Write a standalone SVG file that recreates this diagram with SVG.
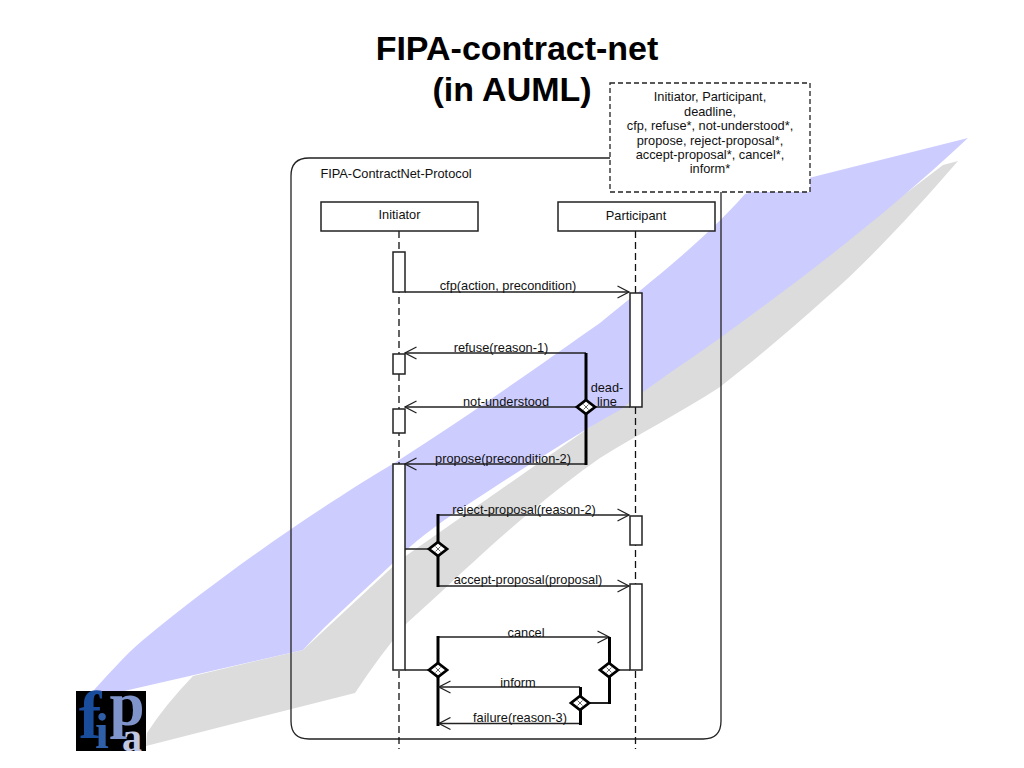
<svg xmlns="http://www.w3.org/2000/svg" width="1024" height="768" viewBox="0 0 1024 768">
<style>
text{font-family:"Liberation Sans",Arial,sans-serif;fill:#111;text-anchor:middle;font-size:12.8px}
.title{font-size:34px;font-weight:bold;fill:#000}
.box{fill:#fff;stroke:#222;stroke-width:1.5}
.life{fill:none;stroke:#111;stroke-width:1.3;stroke-dasharray:7 4}
.msg{fill:none;stroke:#222;stroke-width:1.4}
.bar{fill:none;stroke:#000;stroke-width:3}
.dia{fill:#fff;stroke:#000;stroke-width:2.800}
.x{fill:none;stroke:#444;stroke-width:.8}
.logo{font-family:"Liberation Serif",serif;font-weight:bold}
</style>
<defs>
<marker id="open" markerUnits="userSpaceOnUse" markerWidth="14" markerHeight="14" refX="12.5" refY="7" orient="auto">
<path d="M1 1L12.5 7L1 13" fill="none" stroke="#222" stroke-width="1.3"/>
</marker>
<g id="d"><path class="dia" d="M0-7L9 0L0 7L-9 0Z"/><path class="x" d="M-2.500-2.500L2.500 2.500M2.500-2.500L-2.500 2.500"/></g>
</defs>
<g id="background">
<path d="M958 161L943 165L700 350L400 560L303 650L193 676Q165 705 147 733L146 746L355 693Q380 655 407 623L440 593C480 555 540 500 600 458C640 433 680 413 720 387C755 360 790 330 827 297C870 260 920 205 958 161Z" fill="#dcdcdc"/>
<path d="M968 138L745 194C700 245 640 290 600 323C540 365 470 415 396 462C340 495 240 560 143 640C125 655 105 678 85 700L303 650C330 620 365 590 393 563C420 535 450 516 490 490C530 464 580 432 620 410C660 378 690 360 720 338C800 280 880 220 968 138Z" fill="#ccccff"/>
</g>
<text class="title" x="517" y="60">FIPA-contract-net</text>
<text class="title" x="512" y="101">(in AUML)</text>
<g id="frame">
<path d="M610 158H309Q291 158 291 176V721Q291 739 309 739H703Q721 739 721 721V192" fill="none" stroke="#222" stroke-width="1.3"/>
<text x="396" y="178">FIPA-ContractNet-Protocol</text>
</g>
<g id="parameters">
<rect x="610" y="83" width="200" height="109" fill="#fff" stroke="#222" stroke-width="1.3" stroke-dasharray="5 3"/>
<text x="710" y="101">Initiator, Participant,</text>
<text x="710" y="116">deadline,</text>
<text x="710" y="130">cfp, refuse*, not-understood*,</text>
<text x="710" y="145">propose, reject-proposal*,</text>
<text x="710" y="159">accept-proposal*, cancel*,</text>
<text x="710" y="173">inform*</text>
</g>
<g id="lifelines">
<path class="life" d="M399 231V749"/>
<path class="life" d="M635.500 231V749"/>
</g>
<g id="initiator">
<rect class="box" x="321" y="202" width="157" height="29"/>
<text x="399.500" y="219">Initiator</text>
</g>
<g id="participant">
<rect class="box" x="558" y="202" width="157" height="29"/>
<text x="636" y="220">Participant</text>
</g>
<g id="activations">
<rect class="box" x="393" y="252" width="12" height="40"/>
<rect class="box" x="393" y="354" width="12" height="20"/>
<rect class="box" x="393" y="409" width="12" height="24"/>
<rect class="box" x="393" y="464" width="12" height="206"/>
<rect class="box" x="630" y="293" width="12" height="114"/>
<rect class="box" x="630" y="516" width="12" height="29"/>
<rect class="box" x="630" y="584" width="12" height="86"/>
</g>
<g id="connectors">
<path class="msg" marker-end="url(#open)" d="M405 292H629"/>
<path class="msg" marker-end="url(#open)" d="M586 353H405"/>
<path class="msg" marker-end="url(#open)" d="M586 407H405"/>
<path class="msg" marker-end="url(#open)" d="M586 464H405"/>
<path class="msg" d="M630 407H586"/>
<path class="bar" d="M586 353V465"/>
<path class="msg" marker-end="url(#open)" d="M438 515H629"/>
<path class="msg" marker-end="url(#open)" d="M438 586H629"/>
<path class="msg" d="M405 549H438"/>
<path class="bar" d="M438 514V587"/>
<path class="msg" marker-end="url(#open)" d="M438 637H609"/>
<path class="msg" d="M405 670H438M630 670H609"/>
<path class="msg" style="stroke-width:2" d="M610 703H580"/>
<path class="bar" d="M438 636V726"/>
<path class="bar" d="M609.500 637V704"/>
<path class="msg" marker-end="url(#open)" d="M580 687H439"/>
<path class="msg" marker-end="url(#open)" d="M580 723.500H439"/>
<path class="bar" d="M580.500 687V725"/>
</g>
<g id="gates">
<use href="#d" x="586" y="407"/>
<use href="#d" x="438" y="549"/>
<use href="#d" x="438" y="670"/>
<use href="#d" x="609" y="670"/>
<use href="#d" x="580" y="703"/>
</g>
<g id="labels">
<text x="508" y="290">cfp(action, precondition)</text>
<text x="501" y="352">refuse(reason-1)</text>
<text x="506" y="406">not-understood</text>
<text x="607" y="392">dead-</text>
<text x="607" y="406">line</text>
<text x="503" y="463">propose(precondition-2)</text>
<text x="524" y="514">reject-proposal(reason-2)</text>
<text x="528" y="584">accept-proposal(proposal)</text>
<text x="526" y="637">cancel</text>
<text x="518" y="687">inform</text>
<text x="520" y="722">failure(reason-3)</text>
</g>
<g id="logo">
<rect x="76" y="691" width="70" height="60" fill="#000"/>
<text class="logo" x="90" y="738" style="font-size:68px;fill:#1a4c9c">f</text>
<text class="logo" x="102" y="748" style="font-size:50px;fill:#2f5fa8">i</text>
<text class="logo" x="127" y="725" style="font-size:63px;fill:#8094cc">p</text>
<text class="logo" x="132" y="751" style="font-size:40px;fill:#c0c8e4">a</text>
</g>
</svg>
